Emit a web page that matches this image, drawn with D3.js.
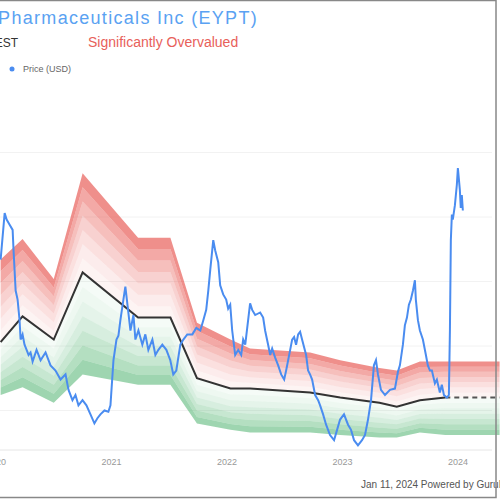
<!DOCTYPE html>
<html>
<head>
<script src="https://cdn.jsdelivr.net/npm/d3@7"></script>
<style>
body{margin:0;background:#fff;font-family:"Liberation Sans",Arial,sans-serif;}
</style>
</head>
<body>
<div id="chart"></div>
<script>
// price (decimal year, USD)
var priceData = [[2020.04,16.7],[2020.075,20.3],[2020.092,19.8],[2020.118,19.4],[2020.144,19.0],[2020.152,17.4],[2020.17,14.3],[2020.187,13.6],[2020.204,12.0],[2020.213,10.5],[2020.23,10.9],[2020.247,10.1],[2020.265,9.7],[2020.282,9.3],[2020.299,9.5],[2020.317,8.8],[2020.351,9.7],[2020.386,8.9],[2020.429,9.5],[2020.472,8.5],[2020.515,8.1],[2020.559,7.4],[2020.602,7.8],[2020.628,6.6],[2020.662,5.8],[2020.688,6.2],[2020.714,5.4],[2020.749,5.8],[2020.783,5.4],[2020.818,4.7],[2020.852,4.0],[2020.878,4.4],[2020.904,4.7],[2020.939,5.0],[2020.973,4.9],[2020.991,5.4],[2021.017,8.9],[2021.043,10.5],[2021.06,10.8],[2021.077,12.0],[2021.103,13.6],[2021.12,14.6],[2021.138,13.2],[2021.164,11.2],[2021.19,12.4],[2021.207,10.5],[2021.233,11.2],[2021.267,10.1],[2021.293,10.9],[2021.319,9.7],[2021.354,10.5],[2021.38,9.3],[2021.406,9.7],[2021.44,10.1],[2021.475,9.7],[2021.509,8.9],[2021.535,7.8],[2021.561,8.1],[2021.596,10.1],[2021.622,10.5],[2021.656,10.9],[2021.7,10.9],[2021.734,11.4],[2021.769,11.2],[2021.795,12.0],[2021.82,12.8],[2021.838,14.3],[2021.855,15.9],[2021.881,18.2],[2021.898,17.4],[2021.924,16.5],[2021.941,14.7],[2021.967,14.0],[2021.993,13.6],[2022.01,12.9],[2022.028,13.2],[2022.045,11.2],[2022.071,9.3],[2022.097,9.7],[2022.123,9.3],[2022.14,10.5],[2022.158,10.1],[2022.2,13.3],[2022.218,12.8],[2022.244,12.4],[2022.287,12.6],[2022.313,12.2],[2022.33,11.2],[2022.356,10.1],[2022.374,9.3],[2022.391,9.8],[2022.417,9.1],[2022.443,8.5],[2022.469,7.8],[2022.495,7.4],[2022.512,8.1],[2022.547,9.7],[2022.564,10.5],[2022.581,10.7],[2022.598,10.1],[2022.616,10.9],[2022.633,11.1],[2022.65,10.5],[2022.685,9.3],[2022.702,8.1],[2022.719,7.8],[2022.737,7.4],[2022.763,6.2],[2022.789,5.8],[2022.806,5.4],[2022.832,4.7],[2022.858,3.9],[2022.892,3.1],[2022.927,2.7],[2022.953,3.5],[2022.979,4.3],[2023.013,4.7],[2023.048,3.9],[2023.074,3.5],[2023.1,2.7],[2023.134,2.3],[2023.169,2.7],[2023.195,3.1],[2023.221,4.3],[2023.247,5.8],[2023.272,8.5],[2023.29,8.9],[2023.307,7.8],[2023.333,6.6],[2023.368,6.2],[2023.411,6.6],[2023.454,6.7],[2023.48,8.0],[2023.497,8.5],[2023.523,10.1],[2023.54,11.6],[2023.558,12.2],[2023.575,13.2],[2023.592,13.6],[2023.61,14.3],[2023.627,15.1],[2023.635,13.6],[2023.653,12.0],[2023.67,11.2],[2023.696,10.5],[2023.722,9.3],[2023.739,8.5],[2023.757,8.1],[2023.774,8.1],[2023.8,7.1],[2023.817,7.4],[2023.843,6.4],[2023.86,7.0],[2023.878,6.2],[2023.904,6.0],[2023.921,6.2],[2023.93,11.2],[2023.938,18.2],[2023.947,20.2],[2023.955,19.8],[2023.973,20.9],[2023.99,22.5],[2023.999,23.8],[2024.016,22.1],[2024.024,20.7],[2024.033,21.7],[2024.042,20.5]];

// GF value line and band edges
var valueDates = [2020.04,2020.23,2020.5,2020.75,2021.23,2021.51,2021.74,2022.03,2022.2,2022.72,2022.98,2023.32,2023.47,2023.67,2023.89,2024.36];
var fairValue  = [10.3,12.3,10.5,15.7,12.2,12.2,7.5,6.7,6.7,6.4,6.0,5.6,5.3,5.8,6.0,6.0];
var upperBand  = [16.7,18.3,15.2,23.4,18.4,18.4,11.8,10.5,9.8,9.5,8.9,8.3,8.1,8.8,8.8,8.8];
var lowerBand  = [6.2,6.8,5.6,7.8,7.0,7.0,4.0,3.5,3.3,3.3,3.1,2.9,2.9,3.3,3.1,3.1];
var solidUntil = 2023.89;

var gridValues = [5,10,15,20,25];
var yearTicks = [2020,2021,2022,2023,2024];

var W = 500, H = 500;
var svg = d3.select("#chart").append("svg").attr("width",W).attr("height",H);

var x = d3.scaleLinear().domain([2020,2024]).range([-4,458]);
var y = d3.scaleLinear().domain([0,25]).range([475,152.5]);

// grid
svg.selectAll(".grid").data(gridValues).enter().append("line")
	.attr("x1",0).attr("x2",492).attr("y1",d=>y(d)).attr("y2",d=>y(d))
	.attr("stroke","#f2f2f2").attr("stroke-width",1);
svg.append("line").attr("x1",0).attr("x2",492).attr("y1",450).attr("y2",450)
	.attr("stroke","#e6e6e6");

// bands
var bandRows = valueDates.map((t,i)=>({t:t,f:fairValue[i],u:upperBand[i],l:lowerBand[i]}));
var steps = 7;
for (var k=0;k<steps;k++){
	var a = k/steps, b=(k+1)/steps;
	var op = 0.05 + 0.65*Math.pow(b,1.8);
	svg.append("path").datum(bandRows)
		.attr("d",d3.area().x(d=>x(d.t)).y0(d=>y(d.f+(d.u-d.f)*a)).y1(d=>y(d.f+(d.u-d.f)*b)))
		.attr("fill","#e8605a").attr("fill-opacity",op);
	svg.append("path").datum(bandRows)
		.attr("d",d3.area().x(d=>x(d.t)).y0(d=>y(d.f-(d.f-d.l)*a)).y1(d=>y(d.f-(d.f-d.l)*b)))
		.attr("fill","#5cb97a").attr("fill-opacity",op*0.85);
}

// fair value line
var fvLine = d3.line().x(d=>x(d.t)).y(d=>y(d.f));
svg.append("path").datum(bandRows.filter(d=>d.t<=solidUntil))
	.attr("d",fvLine).attr("fill","none").attr("stroke","#333").attr("stroke-width",2);
svg.append("path").datum(bandRows.filter(d=>d.t>=solidUntil))
	.attr("d",fvLine).attr("fill","none").attr("stroke","#555").attr("stroke-width",2)
	.attr("stroke-dasharray","5,4");

// price
svg.append("path").datum(priceData)
	.attr("d",d3.line().x(d=>x(d[0])).y(d=>y(d[1])))
	.attr("fill","none").attr("stroke","#4a8cf0").attr("stroke-width",2);

// x axis labels
svg.selectAll(".yl").data(yearTicks).enter().append("text")
	.attr("x",d=>x(d)).attr("y",465).attr("text-anchor","middle")
	.attr("font-size",9).attr("fill","#999").text(d=>d);

// header
svg.append("text").attr("x",258).attr("y",24).attr("text-anchor","end")
	.attr("font-size",18).attr("letter-spacing",1.3).attr("fill","#5aa2f2").text("Eyepoint Pharmaceuticals Inc (EYPT)");
svg.append("text").attr("x",18).attr("y",47).attr("text-anchor","end")
	.attr("font-size",12).attr("fill","#333").text("EST");
svg.append("text").attr("x",88).attr("y",47)
	.attr("font-size",14).attr("fill","#e8605a").text("Significantly Overvalued");
svg.append("circle").attr("cx",12).attr("cy",69).attr("r",2.5).attr("fill","#4a8cf0");
svg.append("text").attr("x",23).attr("y",72)
	.attr("font-size",9).attr("fill","#666").text("Price (USD)");

svg.append("text").attr("x",361).attr("y",488)
	.attr("font-size",10).attr("fill","#555").text("Jan 11, 2024   Powered by GuruFocus");

// frame
svg.append("rect").attr("x",-5).attr("y",0.5).attr("width",W+4-3).attr("height",H-3)
	.attr("fill","none").attr("stroke","#888").attr("stroke-width",1.5);
</script>
</body>
</html>
